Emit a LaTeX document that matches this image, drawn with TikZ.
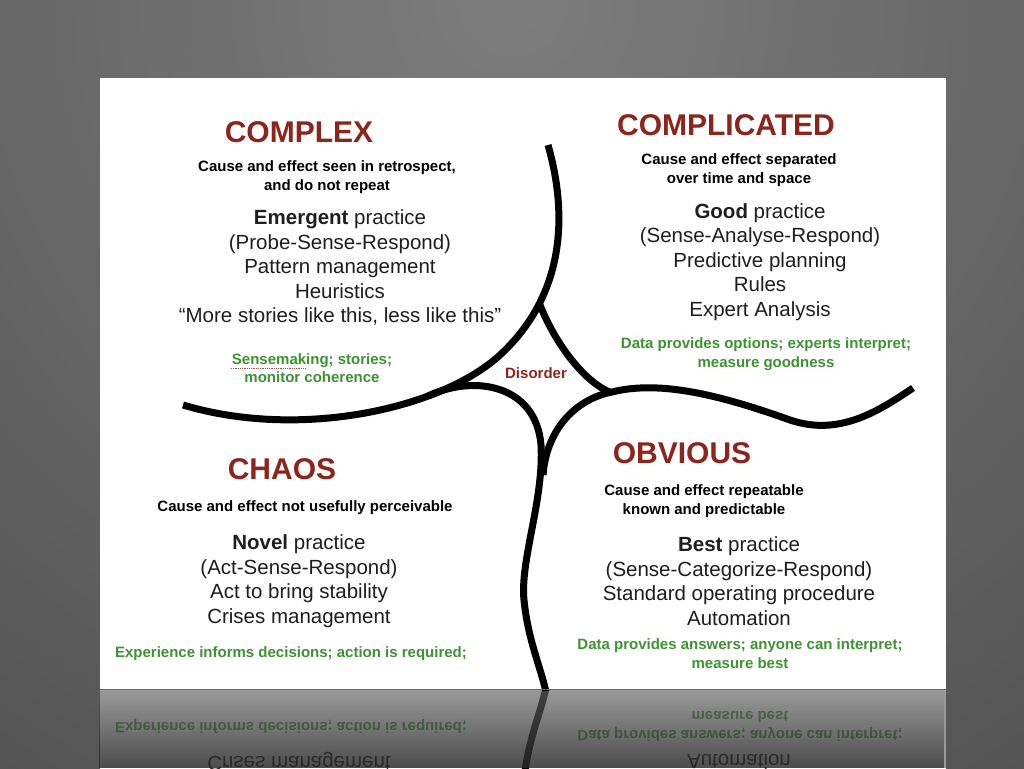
\documentclass[tikz,border=0pt]{standalone}
\usepackage{fontspec}
\setmainfont{Liberation Sans}
\usetikzlibrary{fadings}
\definecolor{cynred}{RGB}{140,38,28}
\definecolor{cyngreen}{RGB}{62,146,52}
\definecolor{bodygray}{RGB}{30,30,30}
\tikzfading[name=reflfade, top color=transparent!100, bottom color=transparent!0]
\tikzset{
  heading/.style={inner sep=0pt, text=cynred, font=\bfseries\fontsize{30}{30}\selectfont},
  causetext/.style={inner sep=0pt, align=center, font=\bfseries\fontsize{15}{19}\selectfont},
  bodytext/.style={inner sep=0pt, align=center, text=bodygray, font=\fontsize{20.5}{24.6}\selectfont},
  greentext/.style={inner sep=0pt, align=center, text=cyngreen, font=\bfseries\fontsize{15}{18.5}\selectfont},
  boundary/.style={line width=7pt}
}
\newcommand{\cynefinslide}[1]{%
  \fill[white] (100,78) rectangle (946,690);
  \draw[boundary] (548,145) .. controls (568,215) and (565,295) .. (500,355)
    .. controls (441,409) and (300,440) .. (183,405);
  \draw[boundary] (540,305) .. controls (556,345) and (585,383) .. (612,393);
  \draw[boundary] (428,396) .. controls (475,374) and (536,385) .. (541,445)
    .. controls (544,500) and (520,560) .. (524,600)
    .. controls (528,640) and (540,665) .. (546,692);
  \draw[boundary] (543,475) .. controls (547,425) and (580,398) .. (612,392)
    .. controls (660,380) and (720,395) .. (790,420)
    .. controls (840,437) and (880,410) .. (913,388);
  \node[heading] (complex#1) at (299,132) {COMPLEX};
  \node[causetext] (complexcause#1) at (327,177.5) {Cause and effect seen in retrospect,\\and do not repeat};
  \node[bodytext] (complexbody#1) at (340,267.5) {\textbf{Emergent} practice\\(Probe-Sense-Respond)\\Pattern management\\Heuristics\\“More stories like this, less like this”};
  \node[greentext] (complexdata#1) at (312,368) {Sensemaking; stories;\\monitor coherence};
  \draw[cynred!80, densely dotted, line width=0.8pt] (231,368) -- (306,368);
  \node[heading] (complicated#1) at (726,125) {COMPLICATED};
  \node[causetext] (complicatedcause#1) at (739,170.5) {Cause and effect separated\\over time and space};
  \node[bodytext] (complicatedbody#1) at (760,262) {\textbf{Good} practice\\(Sense-Analyse-Respond)\\Predictive planning\\Rules\\Expert Analysis};
  \node[greentext] (complicateddata#1) at (766,354) {Data provides options; experts interpret;\\measure goodness};
  \node[heading] (chaos#1) at (282,469) {CHAOS};
  \node[causetext] (chaoscause#1) at (305,508) {Cause and effect not usefully perceivable};
  \node[bodytext] (chaosbody#1) at (299,581) {\textbf{Novel} practice\\(Act-Sense-Respond)\\Act to bring stability\\Crises management};
  \node[greentext] (chaosdata#1) at (291,654) {Experience informs decisions; action is required;};
  \node[heading] (obvious#1) at (682,453) {OBVIOUS};
  \node[causetext] (obviouscause#1) at (704,501) {Cause and effect repeatable\\known and predictable};
  \node[bodytext] (obviousbody#1) at (739,581) {\textbf{Best} practice\\(Sense-Categorize-Respond)\\Standard operating procedure\\Automation};
  \node[greentext] (obviousdata#1) at (740,653.5) {Data provides answers; anyone can interpret;\\measure best};
  \node[causetext, text=cynred] (disorder#1) at (536,373) {Disorder};
}
\begin{document}
\begin{tikzpicture}[x=1pt, y=-1pt]
\useasboundingbox (0,0) rectangle (1024,768);
\begin{scope}
  \clip (0,0) rectangle (1024,768);
  \shade[inner color=black!51, outer color=black!84] (512,0) circle (1900pt);
\end{scope}
% reflection below the slide
\begin{scope}
  \clip (100,690) rectangle (946,768);
  \begin{scope}[shift={(0,1380)}, yscale=-1, transform shape]
    \cynefinslide{r}
  \end{scope}
\end{scope}
\fill[black!25, opacity=0.5] (100,690) rectangle (946,768);
\fill[black, opacity=0.3] (100,690) rectangle (946,768);
\fill[black, opacity=0.5, path fading=reflfade] (100,690) rectangle (946,768);
% slide
\begin{scope}
  \clip (100,78) rectangle (946,690);
  \cynefinslide{}
\end{scope}
\draw[black!60, line width=1.2pt] (100,689.5) -- (946,689.5);
\end{tikzpicture}
\end{document}
